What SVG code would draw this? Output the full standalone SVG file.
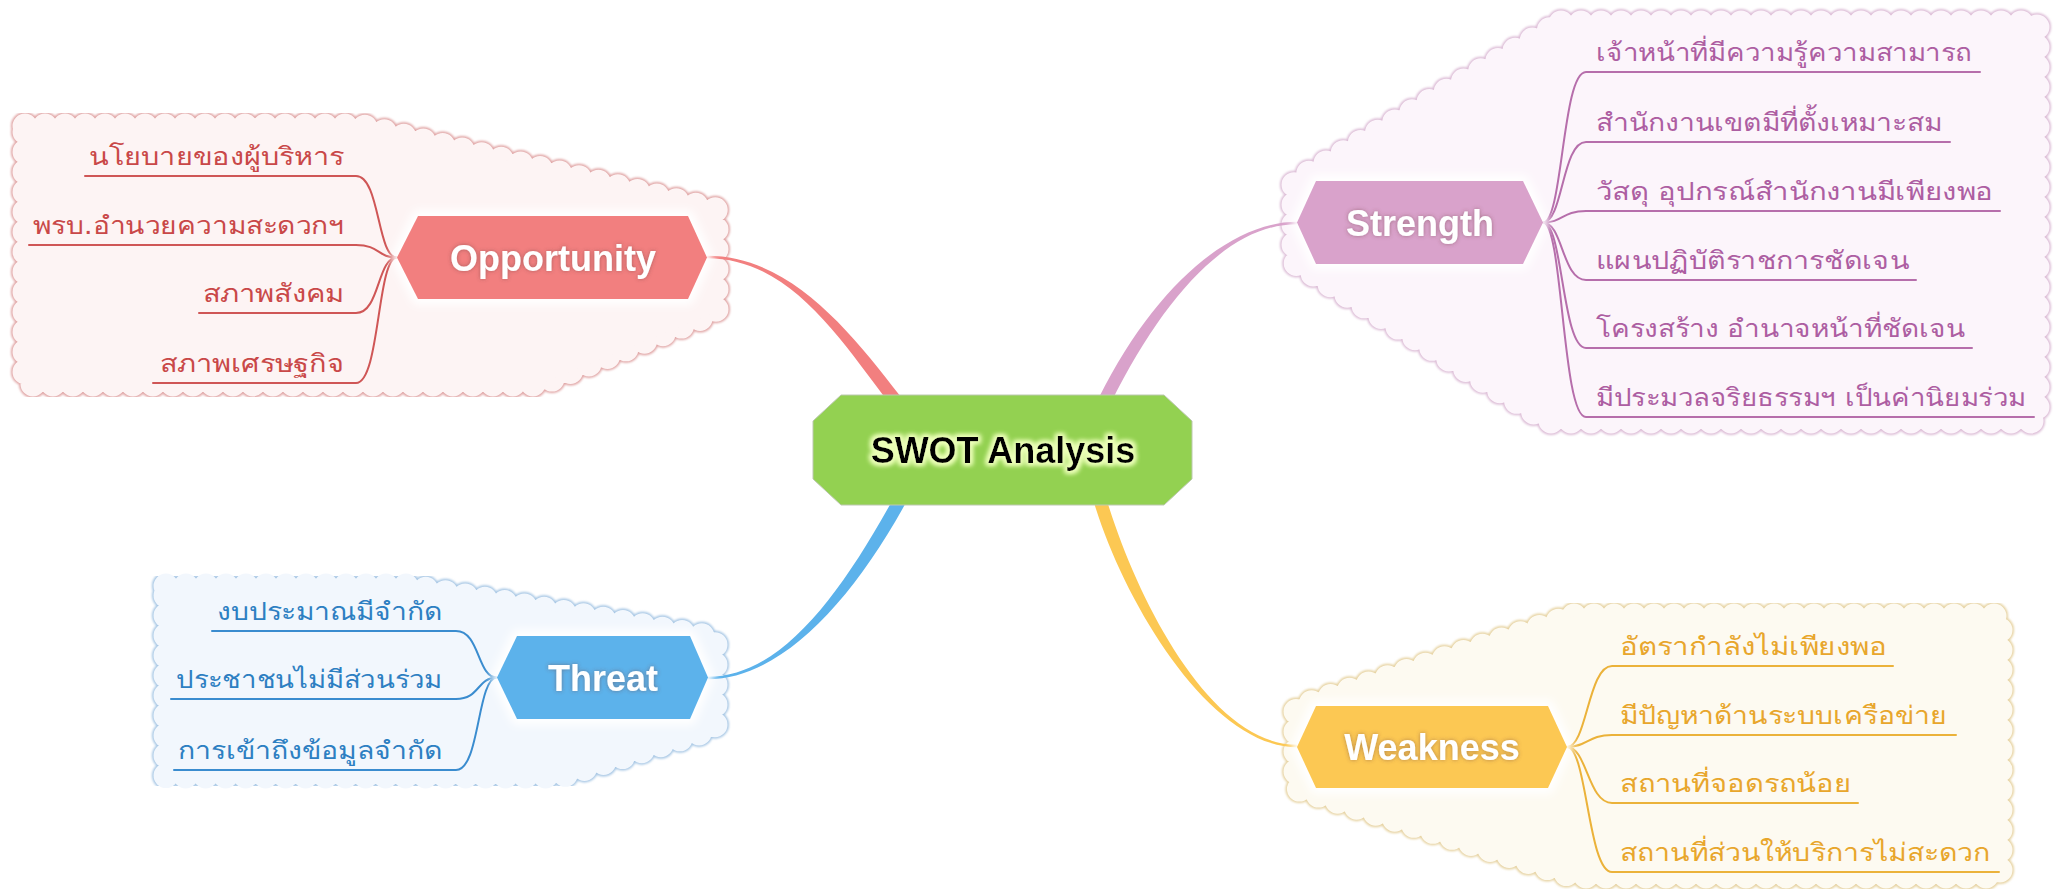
<svg xmlns="http://www.w3.org/2000/svg" xmlns:xlink="http://www.w3.org/1999/xlink" width="2058" height="889" viewBox="0 0 2058 889">
  <style>
    .item { font-family: "DejaVu Sans", "Noto Sans", sans-serif; font-size: 25px; }
    .label { font-family: "Liberation Sans", Arial, sans-serif; font-weight: bold; font-size: 36px; fill: #ffffff; text-anchor: middle; }
    .title { font-family: "Liberation Sans", Arial, sans-serif; font-weight: bold; font-size: 36px; fill: #000000; text-anchor: middle; }
    .edge { fill: none; stroke-width: 28; stroke-dasharray: 0 20; stroke-linecap: round; }
    .dots { fill: none; stroke-width: 25; stroke-dasharray: 0 20; stroke-linecap: round; }
    .branch { fill: none; stroke-width: 2; stroke-linecap: round; }
    .halo { fill: #ffffff; stroke: #ffffff; stroke-width: 12; stroke-linejoin: round; }
  </style>
  <defs>
    <filter id="soft" x="-5%" y="-5%" width="110%" height="110%">
      <feGaussianBlur stdDeviation="0.8"/>
    </filter>
    <filter id="haloBlur" x="-20%" y="-40%" width="140%" height="180%">
      <feGaussianBlur stdDeviation="4"/>
    </filter>
    <filter id="labelShadow" x="-20%" y="-50%" width="140%" height="200%">
      <feGaussianBlur in="SourceAlpha" stdDeviation="2.2" result="b"/>
      <feColorMatrix in="b" type="matrix" values="0 0 0 0 0.15  0 0 0 0 0.05  0 0 0 0 0.05  0 0 0 0.5 0" result="s"/>
      <feMerge><feMergeNode in="s"/><feMergeNode in="SourceGraphic"/></feMerge>
    </filter>
    <filter id="limeGlow" x="-20%" y="-50%" width="140%" height="200%">
      <feMorphology in="SourceAlpha" operator="dilate" radius="1.5" result="d"/>
      <feGaussianBlur in="d" stdDeviation="2.5" result="b"/>
      <feFlood flood-color="#ecffb8"/>
      <feComposite in2="b" operator="in" result="g"/>
      <feMerge><feMergeNode in="g"/><feMergeNode in="g"/><feMergeNode in="SourceGraphic"/></feMerge>
    </filter>
    <!-- cloud outlines (centre line of the scalloped edge) -->
    <path id="cloudOpp" d="M25,126 L360,126 L716,210 L716,312 L540,384 L25,384 Z"/>
    <path id="cloudStr" d="M1561,23 L2037,23 L2037,421 L1548,421 L1294,262 L1294,182 Z"/>
    <path id="cloudThr" d="M166,586 L406,586 L715,638 L715,728 L560,776 L166,776 Z"/>
    <path id="cloudWeak" d="M1574,616 L2000,616 L2000,876 L1574,876 L1296,788 L1296,708 Z"/>
    <polygon id="hexOpp" points="397,257.5 418,216 688,216 707,257.5 688,299 418,299"/>
    <polygon id="hexStr" points="1297,222.5 1316,181 1523,181 1543,222.5 1523,264 1316,264"/>
    <polygon id="hexThr" points="497,677.5 517,636 690,636 708,677.5 690,719 517,719"/>
    <polygon id="hexWeak" points="1297,747 1316,706 1548,706 1567,747 1548,788 1316,788"/>
  </defs>

  <rect width="2058" height="889" fill="#ffffff"/>

  <!-- boundary clouds -->
  <g id="clouds">
    <g id="cloud-opportunity">
      <use xlink:href="#cloudOpp" class="edge" stroke="#e0a4a4" filter="url(#soft)"/>
      <use xlink:href="#cloudOpp" class="dots" stroke="#fdf4f4"/>
      <use xlink:href="#cloudOpp" fill="#fdf4f4"/>
    </g>
    <g id="cloud-strength">
      <use xlink:href="#cloudStr" class="edge" stroke="#dcbcd6" filter="url(#soft)"/>
      <use xlink:href="#cloudStr" class="dots" stroke="#fcf5fb"/>
      <use xlink:href="#cloudStr" fill="#fcf5fb"/>
    </g>
    <g id="cloud-threat">
      <use xlink:href="#cloudThr" class="edge" stroke="#a6c6e4" filter="url(#soft)"/>
      <use xlink:href="#cloudThr" class="dots" stroke="#f2f7fd"/>
      <use xlink:href="#cloudThr" fill="#f2f7fd"/>
    </g>
    <g id="cloud-weakness">
      <use xlink:href="#cloudWeak" class="edge" stroke="#e6d2a0" filter="url(#soft)"/>
      <use xlink:href="#cloudWeak" class="dots" stroke="#fdfaf1"/>
      <use xlink:href="#cloudWeak" fill="#fdfaf1"/>
    </g>
  </g>

  <!-- connectors -->
  <g id="connectors">
    <!-- tapered main branches -->
    <path fill="#f27f7f" d="M707,255.8 C790,255.8 850.2,331.1 900.2,396.1 L889.8,403.9 C839.8,338.9 790,258.2 707,258.2 Z"/>
    <path fill="#d9a2cb" d="M1297,224.2 C1230,224.2 1165.8,292.9 1110.8,402.9 L1099.2,397.1 C1154.2,287.1 1230,221.8 1297,221.8 Z"/>
    <path fill="#5cb2eb" d="M708,676.8 C780,676.8 839.3,596.9 894.3,496.9 L905.7,503.1 C850.7,603.1 780,679.2 708,679.2 Z"/>
    <path fill="#fcc853" d="M1297,747.2 C1210,747.2 1123.8,601.9 1093.8,501.9 L1106.2,498.1 C1136.2,598.1 1210,744.8 1297,744.8 Z"/>

    <!-- Opportunity sub-branches -->
    <g stroke="#cf5656" class="branch">
      <path d="M397,257.5 C377,257.5 380,176 356,176 L85,176"/>
      <path d="M397,257.5 C377,257.5 380,245 356,245 L29,245"/>
      <path d="M397,257.5 C377,257.5 380,313 356,313 L199,313"/>
      <path d="M397,257.5 C377,257.5 380,383 356,383 L153,383"/>
    </g>
    <!-- Strength sub-branches -->
    <g stroke="#b66eab" class="branch">
      <path d="M1543,222.5 C1563,222.5 1562,72 1586,72 L1980,72"/>
      <path d="M1543,222.5 C1563,222.5 1562,142 1586,142 L1950,142"/>
      <path d="M1543,222.5 C1563,222.5 1562,211 1586,211 L2000,211"/>
      <path d="M1543,222.5 C1563,222.5 1562,280 1586,280 L1916,280"/>
      <path d="M1543,222.5 C1563,222.5 1562,348 1586,348 L1972,348"/>
      <path d="M1543,222.5 C1563,222.5 1562,417 1586,417 L2034,417"/>
    </g>
    <!-- Threat sub-branches -->
    <g stroke="#3a8ccf" class="branch">
      <path d="M497,677.5 C477,677.5 480,631 456,631 L212,631"/>
      <path d="M497,677.5 C477,677.5 480,699 456,699 L171,699"/>
      <path d="M497,677.5 C477,677.5 480,770 456,770 L174,770"/>
    </g>
    <!-- Weakness sub-branches -->
    <g stroke="#ebb23a" class="branch">
      <path d="M1567,747 C1587,747 1588,666 1612,666 L1893,666"/>
      <path d="M1567,747 C1587,747 1588,735 1612,735 L1956,735"/>
      <path d="M1567,747 C1587,747 1588,803 1612,803 L1858,803"/>
      <path d="M1567,747 C1587,747 1588,872 1612,872 L1999,872"/>
    </g>
  </g>

  <!-- central topic -->
  <g id="node-swot">
    <polygon points="813,421 841,395 1164,395 1192,421 1192,479 1164,505 841,505 813,479" fill="#93d151" stroke="#bcc8b0" stroke-width="1"/>
    <text class="title" x="1003" y="463" filter="url(#limeGlow)">SWOT Analysis</text>
  </g>

  <g id="node-opportunity">
    <use xlink:href="#hexOpp" class="halo" filter="url(#haloBlur)"/>
    <use xlink:href="#hexOpp" fill="#f27f7f"/>
    <text class="label" x="553" y="270.5" filter="url(#labelShadow)">Opportunity</text>
    <g class="item" fill="#c94848">
      <text x="89" y="165" textLength="255" lengthAdjust="spacingAndGlyphs">นโยบายของผู้บริหาร</text>
      <text x="33" y="234" textLength="311" lengthAdjust="spacingAndGlyphs">พรบ.อำนวยความสะดวกฯ</text>
      <text x="203" y="302" textLength="141" lengthAdjust="spacingAndGlyphs">สภาพสังคม</text>
      <text x="160" y="372" textLength="184" lengthAdjust="spacingAndGlyphs">สภาพเศรษฐกิจ</text>
    </g>
  </g>

  <g id="node-strength">
    <use xlink:href="#hexStr" class="halo" filter="url(#haloBlur)"/>
    <use xlink:href="#hexStr" fill="#d9a2cb"/>
    <text class="label" x="1420" y="235.5" filter="url(#labelShadow)">Strength</text>
    <g class="item" fill="#ad5ea2">
      <text x="1596" y="61" textLength="376" lengthAdjust="spacingAndGlyphs">เจ้าหน้าที่มีความรู้ความสามารถ</text>
      <text x="1596" y="131" textLength="346" lengthAdjust="spacingAndGlyphs">สำนักงานเขตมีที่ตั้งเหมาะสม</text>
      <text x="1596" y="200" textLength="397" lengthAdjust="spacingAndGlyphs">วัสดุ อุปกรณ์สำนักงานมีเพียงพอ</text>
      <text x="1596" y="269" textLength="313" lengthAdjust="spacingAndGlyphs">แผนปฏิบัติราชการชัดเจน</text>
      <text x="1596" y="337" textLength="369" lengthAdjust="spacingAndGlyphs">โครงสร้าง อำนาจหน้าที่ชัดเจน</text>
      <text x="1596" y="406" textLength="430" lengthAdjust="spacingAndGlyphs">มีประมวลจริยธรรมฯ เป็นค่านิยมร่วม</text>
    </g>
  </g>

  <g id="node-threat">
    <use xlink:href="#hexThr" class="halo" filter="url(#haloBlur)"/>
    <use xlink:href="#hexThr" fill="#5cb2eb"/>
    <text class="label" x="603" y="690.5" filter="url(#labelShadow)">Threat</text>
    <g class="item" fill="#2d7fc2">
      <text x="217" y="620" textLength="225" lengthAdjust="spacingAndGlyphs">งบประมาณมีจำกัด</text>
      <text x="176" y="688" textLength="266" lengthAdjust="spacingAndGlyphs">ประชาชนไม่มีส่วนร่วม</text>
      <text x="178" y="759" textLength="264" lengthAdjust="spacingAndGlyphs">การเข้าถึงข้อมูลจำกัด</text>
    </g>
  </g>

  <g id="node-weakness">
    <use xlink:href="#hexWeak" class="halo" filter="url(#haloBlur)"/>
    <use xlink:href="#hexWeak" fill="#fcc853"/>
    <text class="label" x="1432" y="760" filter="url(#labelShadow)">Weakness</text>
    <g class="item" fill="#e8a62c">
      <text x="1620" y="655" textLength="267" lengthAdjust="spacingAndGlyphs">อัตรากำลังไม่เพียงพอ</text>
      <text x="1620" y="724" textLength="327" lengthAdjust="spacingAndGlyphs">มีปัญหาด้านระบบเครือข่าย</text>
      <text x="1620" y="792" textLength="231" lengthAdjust="spacingAndGlyphs">สถานที่จอดรถน้อย</text>
      <text x="1620" y="861" textLength="370" lengthAdjust="spacingAndGlyphs">สถานที่ส่วนให้บริการไม่สะดวก</text>
    </g>
  </g>
</svg>
